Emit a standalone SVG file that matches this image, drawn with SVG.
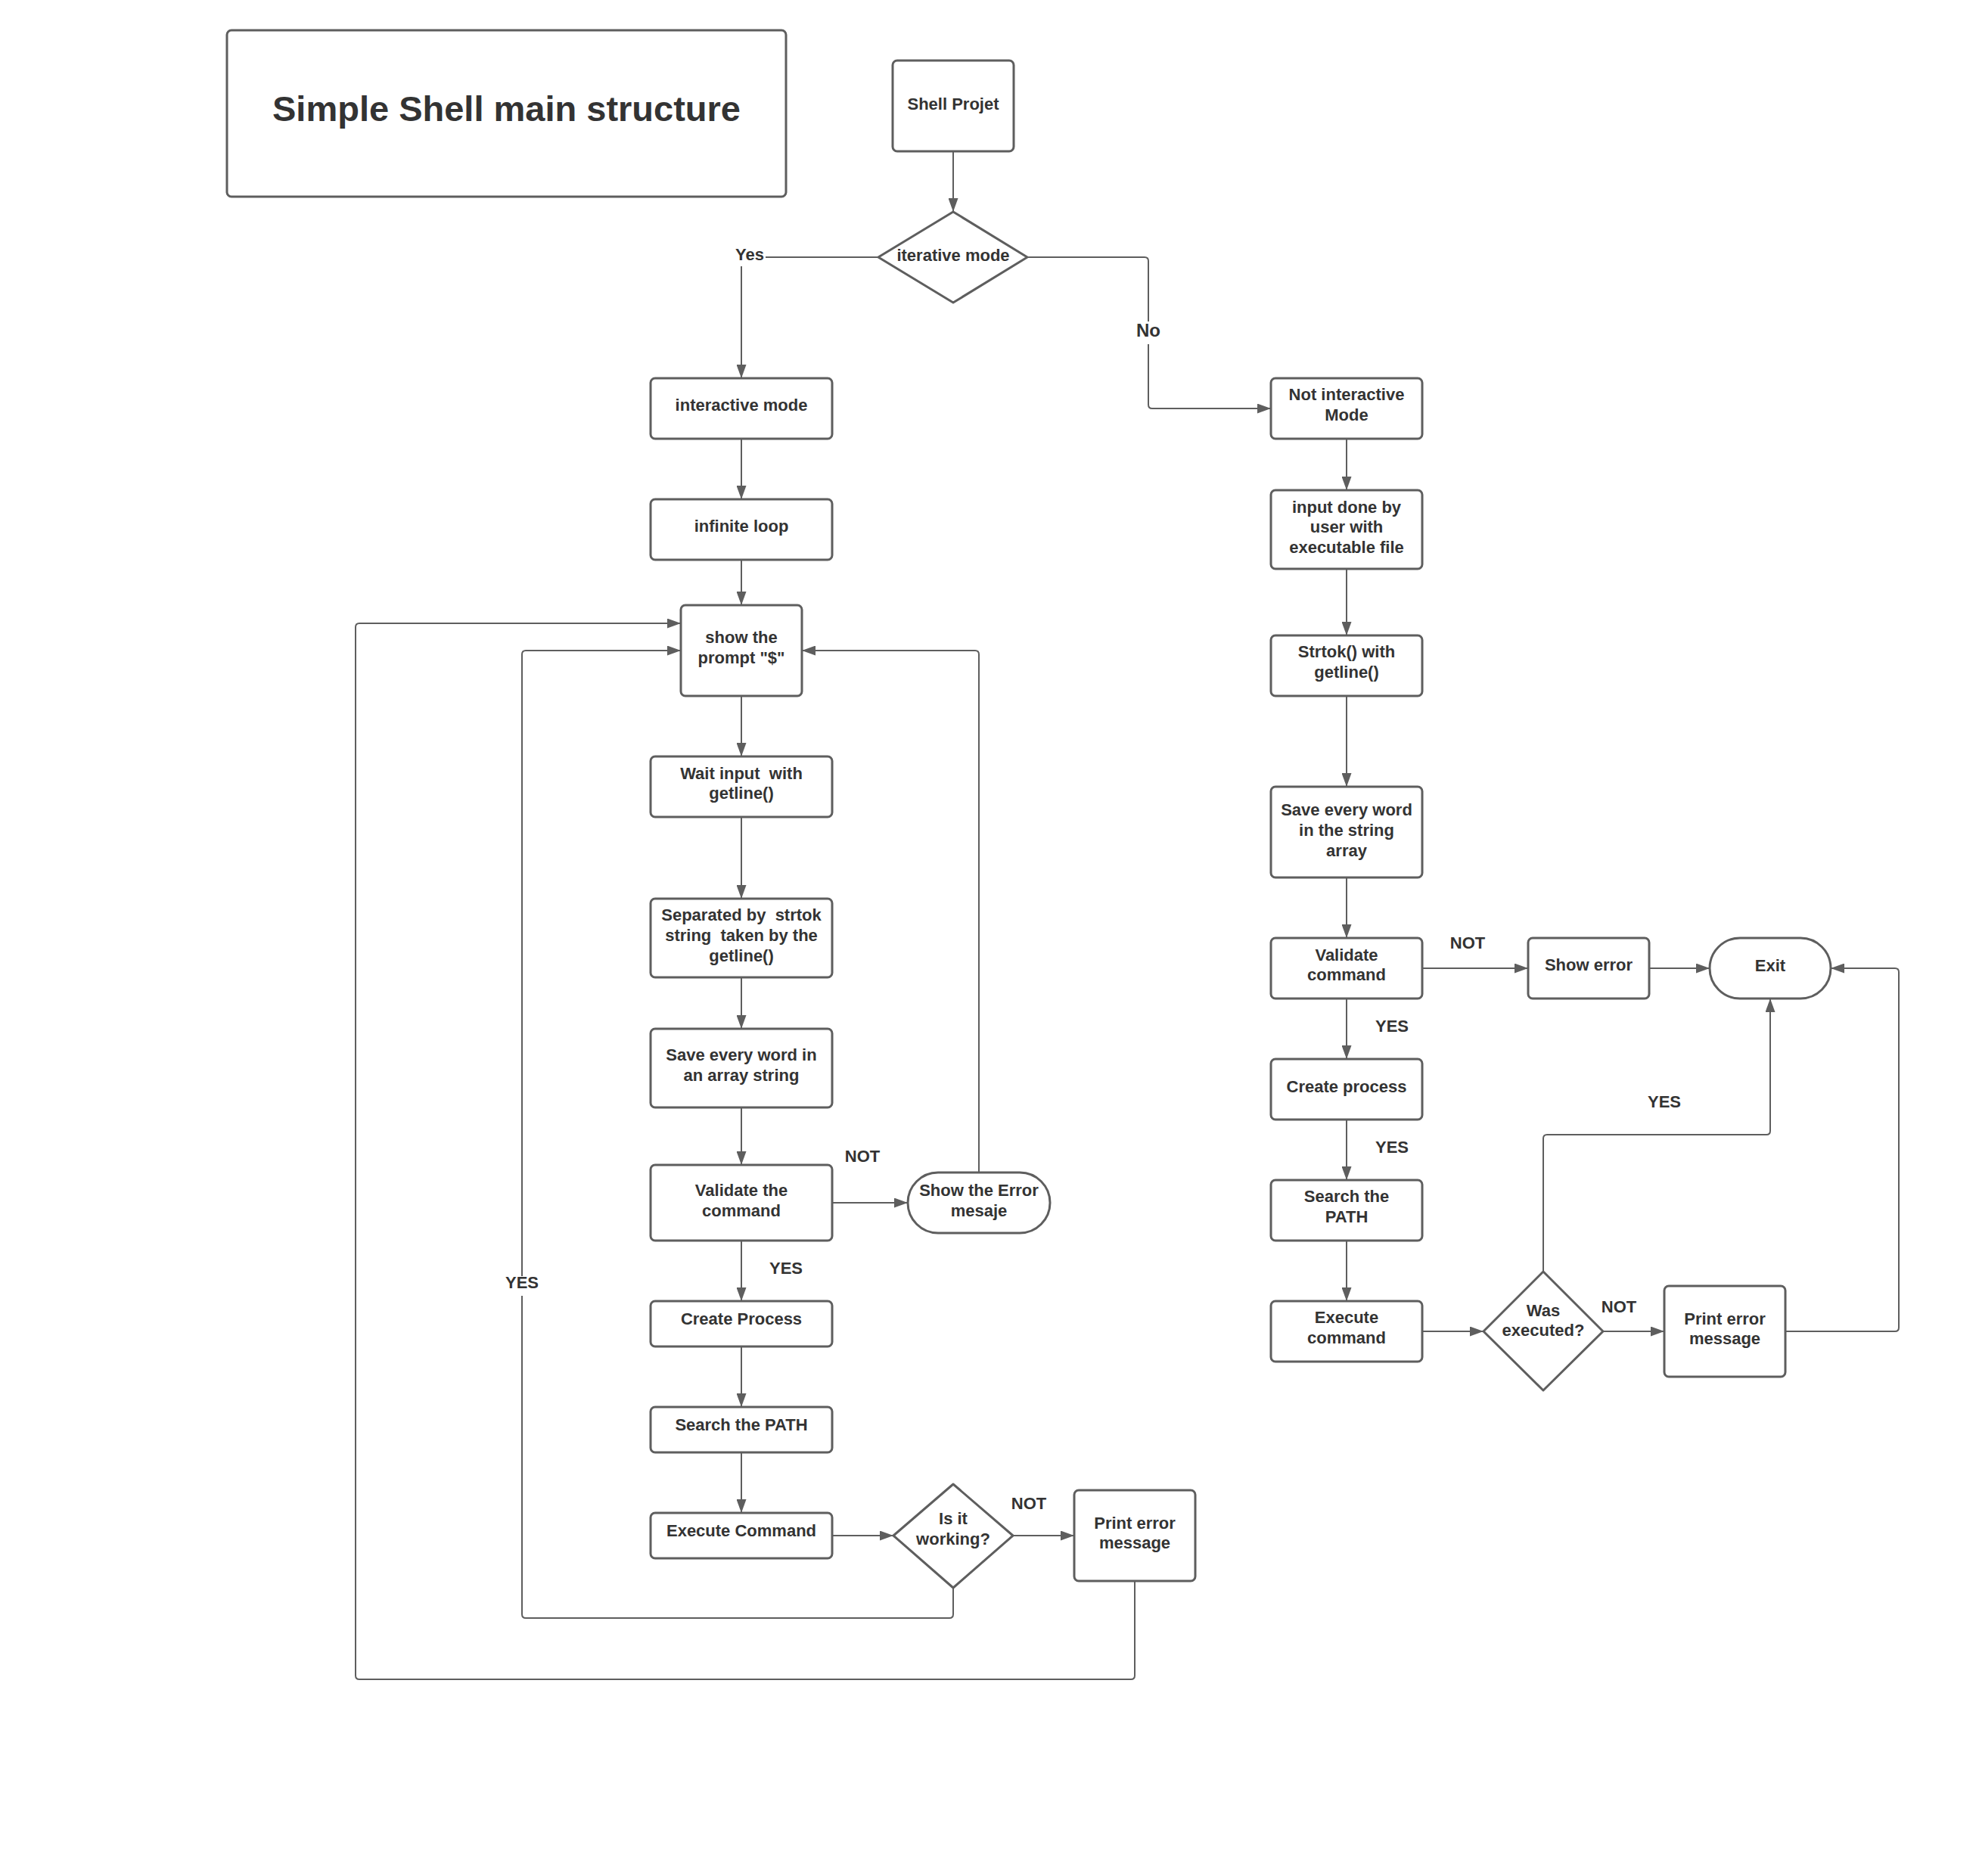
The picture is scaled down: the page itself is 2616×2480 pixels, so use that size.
<svg xmlns="http://www.w3.org/2000/svg" width="2616" height="2480" viewBox="0 0 2616 2480">
<style>
.n{fill:#fff;stroke:#5e5e5e;stroke-width:3;stroke-linejoin:round}
.t{font-family:"Liberation Sans",Arial,sans-serif;font-weight:bold;font-size:22px;fill:#333;text-anchor:middle;transform:translateY(-1.5px)}
.c{fill:none;stroke:#5e5e5e;stroke-width:2}
.a{marker-end:url(#ah)}
.bg{fill:#fff}
</style>
<defs>
<marker id="ah" markerUnits="userSpaceOnUse" markerWidth="18" markerHeight="13" refX="18" refY="6.5" orient="auto">
<path d="M0,0 L18,6.5 L0,13 z" fill="#5e5e5e"/>
</marker>
</defs>
<rect width="2616" height="2480" fill="#fff"/>

<g id="connectors">
<path class="c a" d="M1260,200 V280"/>
<path class="c a" d="M1160,340 H985 Q980,340 980,345 V500"/>
<path class="c a" d="M1358,340 H1513 Q1518,340 1518,345 V535 Q1518,540 1523,540 H1680"/>
<path class="c a" d="M980,580 V660"/>
<path class="c a" d="M980,740 V800"/>
<path class="c a" d="M980,920 V1000"/>
<path class="c a" d="M980,1080 V1188"/>
<path class="c a" d="M980,1292 V1360"/>
<path class="c a" d="M980,1464 V1540"/>
<path class="c a" d="M1100,1590 H1200"/>
<path class="c a" d="M1294,1550 V865 Q1294,860 1289,860 H1060"/>
<path class="c a" d="M980,1640 V1720"/>
<path class="c a" d="M980,1780 V1860"/>
<path class="c a" d="M980,1920 V2000"/>
<path class="c a" d="M1100,2030 H1181"/>
<path class="c a" d="M1339,2030 H1420"/>
<path class="c a" d="M1260,2099 V2134 Q1260,2139 1255,2139 H695 Q690,2139 690,2134 V865 Q690,860 695,860 H900"/>
<path class="c a" d="M1500,2090 V2215 Q1500,2220 1495,2220 H475 Q470,2220 470,2215 V829 Q470,824 475,824 H900"/>
<path class="c a" d="M1780,580 V648"/>
<path class="c a" d="M1780,752 V840"/>
<path class="c a" d="M1780,920 V1040"/>
<path class="c a" d="M1780,1160 V1240"/>
<path class="c a" d="M1880,1280 H2020"/>
<path class="c a" d="M2180,1280 H2260"/>
<path class="c a" d="M1780,1320 V1400"/>
<path class="c a" d="M1780,1480 V1560"/>
<path class="c a" d="M1780,1640 V1720"/>
<path class="c a" d="M1880,1760 H1961"/>
<path class="c a" d="M2119,1760 H2200"/>
<path class="c a" d="M2040,1681 V1505 Q2040,1500 2045,1500 H2335 Q2340,1500 2340,1495 V1320"/>
<path class="c a" d="M2360,1760 H2505 Q2510,1760 2510,1755 V1285 Q2510,1280 2505,1280 H2420"/>
<!-- labels -->
<rect class="bg" x="968" y="326" width="44" height="26"/>
<text class="t" x="991" y="345">Yes</text>
<rect class="bg" x="1500" y="425" width="36" height="30"/>
<text class="t" x="1518" y="446" style="font-size:24px">No</text>
<text class="t" x="1140" y="1537">NOT</text>
<text class="t" x="1039" y="1685">YES</text>
<rect class="bg" x="666" y="1687" width="48" height="26"/>
<text class="t" x="690" y="1704">YES</text>
<text class="t" x="1360" y="1996">NOT</text>
<text class="t" x="1940" y="1255">NOT</text>
<text class="t" x="1840" y="1365">YES</text>
<text class="t" x="1840" y="1525">YES</text>
<text class="t" x="2200" y="1465">YES</text>
<text class="t" x="2140" y="1736">NOT</text>
</g>

<g id="title">
<rect class="n" x="300" y="40" width="739" height="220" rx="6"/>
<text class="t" x="669.5" y="161" style="font-size:47px">Simple Shell main structure</text>
</g>
<g id="shell-projet">
<rect class="n" x="1180" y="80" width="160" height="120" rx="6"/>
<text class="t" x="1260" y="146">Shell Projet</text>
</g>
<g id="iterative-mode">
<polygon class="n" points="1260,280 1358,340 1260,400 1161,340"/>
<text class="t" x="1260" y="346">iterative mode</text>
</g>
<g id="interactive-mode">
<rect class="n" x="860" y="500" width="240" height="80" rx="6"/>
<text class="t" x="980" y="544">interactive mode</text>
</g>
<g id="infinite-loop">
<rect class="n" x="860" y="660" width="240" height="80" rx="6"/>
<text class="t" x="980" y="704">infinite loop</text>
</g>
<g id="show-prompt">
<rect class="n" x="900" y="800" width="160" height="120" rx="6"/>
<text class="t" x="980" y="851">show the</text>
<text class="t" x="980" y="878">prompt "$"</text>
</g>
<g id="wait-input">
<rect class="n" x="860" y="1000" width="240" height="80" rx="6"/>
<text class="t" x="980" y="1031" xml:space="preserve">Wait input  with</text>
<text class="t" x="980" y="1057">getline()</text>
</g>
<g id="separated">
<rect class="n" x="860" y="1188" width="240" height="104" rx="6"/>
<text class="t" x="980" y="1218" xml:space="preserve">Separated by  strtok</text>
<text class="t" x="980" y="1245" xml:space="preserve">string  taken by the</text>
<text class="t" x="980" y="1272">getline()</text>
</g>
<g id="save-word-left">
<rect class="n" x="860" y="1360" width="240" height="104" rx="6"/>
<text class="t" x="980" y="1403">Save every word in</text>
<text class="t" x="980" y="1430">an array string</text>
</g>
<g id="validate-left">
<rect class="n" x="860" y="1540" width="240" height="100" rx="6"/>
<text class="t" x="980" y="1582">Validate the</text>
<text class="t" x="980" y="1609">command</text>
</g>
<g id="show-error-message">
<rect class="n" x="1200" y="1550" width="188" height="80" rx="40"/>
<text class="t" x="1294" y="1582">Show the Error</text>
<text class="t" x="1294" y="1609">mesaje</text>
</g>
<g id="create-process-left">
<rect class="n" x="860" y="1720" width="240" height="60" rx="6"/>
<text class="t" x="980" y="1752">Create Process</text>
</g>
<g id="search-path-left">
<rect class="n" x="860" y="1860" width="240" height="60" rx="6"/>
<text class="t" x="980" y="1892">Search the PATH</text>
</g>
<g id="execute-left">
<rect class="n" x="860" y="2000" width="240" height="60" rx="6"/>
<text class="t" x="980" y="2032">Execute Command</text>
</g>
<g id="is-it-working">
<polygon class="n" points="1260,1962 1339,2030 1260,2099 1181,2030"/>
<text class="t" x="1260" y="2016">Is it</text>
<text class="t" x="1260" y="2043">working?</text>
</g>
<g id="print-error-left">
<rect class="n" x="1420" y="1970" width="160" height="120" rx="6"/>
<text class="t" x="1500" y="2022">Print error</text>
<text class="t" x="1500" y="2048">message</text>
</g>

<g id="not-interactive">
<rect class="n" x="1680" y="500" width="200" height="80" rx="6"/>
<text class="t" x="1780" y="530">Not interactive</text>
<text class="t" x="1780" y="557">Mode</text>
</g>
<g id="input-done">
<rect class="n" x="1680" y="648" width="200" height="104" rx="6"/>
<text class="t" x="1780" y="679">input done by</text>
<text class="t" x="1780" y="705">user with</text>
<text class="t" x="1780" y="732">executable file</text>
</g>
<g id="strtok">
<rect class="n" x="1680" y="840" width="200" height="80" rx="6"/>
<text class="t" x="1780" y="870">Strtok() with</text>
<text class="t" x="1780" y="897">getline()</text>
</g>
<g id="save-word-right">
<rect class="n" x="1680" y="1040" width="200" height="120" rx="6"/>
<text class="t" x="1780" y="1079">Save every word</text>
<text class="t" x="1780" y="1106">in the string</text>
<text class="t" x="1780" y="1133">array</text>
</g>
<g id="validate-right">
<rect class="n" x="1680" y="1240" width="200" height="80" rx="6"/>
<text class="t" x="1780" y="1271">Validate</text>
<text class="t" x="1780" y="1297">command</text>
</g>
<g id="show-error">
<rect class="n" x="2020" y="1240" width="160" height="80" rx="6"/>
<text class="t" x="2100" y="1284">Show error</text>
</g>
<g id="exit">
<rect class="n" x="2260" y="1240" width="160" height="80" rx="40"/>
<text class="t" x="2340" y="1285">Exit</text>
</g>
<g id="create-process-right">
<rect class="n" x="1680" y="1400" width="200" height="80" rx="6"/>
<text class="t" x="1780" y="1445">Create process</text>
</g>
<g id="search-path-right">
<rect class="n" x="1680" y="1560" width="200" height="80" rx="6"/>
<text class="t" x="1780" y="1590">Search the</text>
<text class="t" x="1780" y="1617">PATH</text>
</g>
<g id="execute-right">
<rect class="n" x="1680" y="1720" width="200" height="80" rx="6"/>
<text class="t" x="1780" y="1750">Execute</text>
<text class="t" x="1780" y="1777">command</text>
</g>
<g id="was-executed">
<polygon class="n" points="2040,1681 2119,1760 2040,1838 1961,1760"/>
<text class="t" x="2040" y="1741">Was</text>
<text class="t" x="2040" y="1767">executed?</text>
</g>
<g id="print-error-right">
<rect class="n" x="2200" y="1700" width="160" height="120" rx="6"/>
<text class="t" x="2280" y="1752">Print error</text>
<text class="t" x="2280" y="1778">message</text>
</g>
</svg>
